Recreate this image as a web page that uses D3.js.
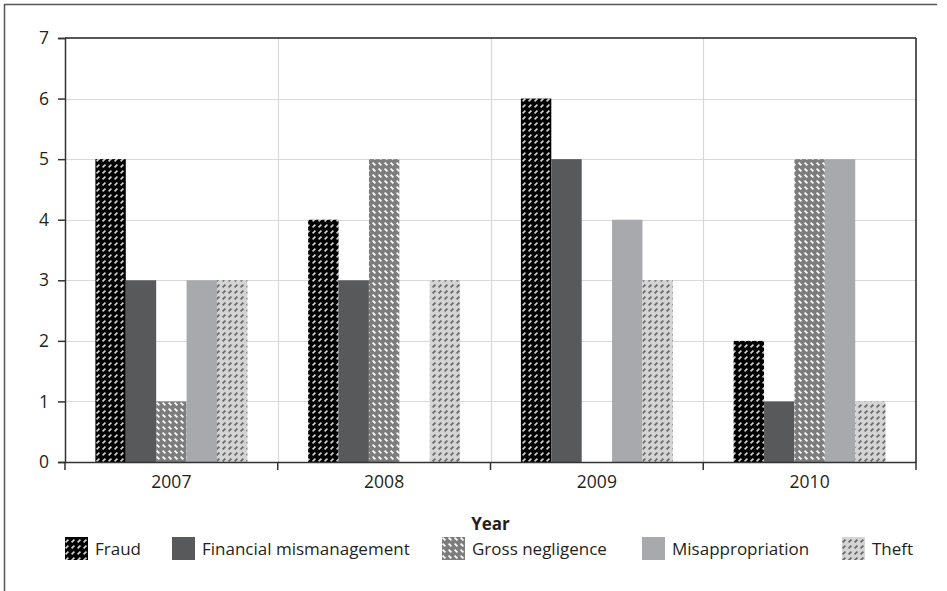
<!DOCTYPE html>
<html><head><meta charset="utf-8">
<script src="https://cdn.jsdelivr.net/npm/d3@7"></script>
<style>body{margin:0;background:#fff}svg{display:block}text{font-family:"Open Sans",sans-serif;fill:#231f20}</style>
</head><body><svg id="c" width="947" height="591"></svg>
<script>
const years = ["2007","2008","2009","2010"];
const seriesNames = ["Fraud","Financial mismanagement","Gross negligence","Misappropriation","Theft"];
const fraud = [5,4,6,2];
const financial = [3,3,5,1];
const gross = [1,5,0,5];
const misappropriation = [3,0,4,5];
const theft = [3,3,3,1];
const yTicks = [0,1,2,3,4,5,6,7];
const values = [fraud, financial, gross, misappropriation, theft];

const svg = d3.select("#c");
const W=947,H=591;
const m={l:65,r:916,t:38,b:462};
const defs = svg.append("defs");
function pat(id,bg,fg,dir){
  const s=6;
  const p=defs.append("pattern").attr("id",id).attr("patternUnits","userSpaceOnUse").attr("width",s).attr("height",s);
  p.append("rect").attr("width",s).attr("height",s).attr("fill",bg);
  const seg = dir>0 ? [0.6,5.4,3.4,2.6] : [0.6,0.6,3.4,3.4];
  p.append("line").attr("x1",seg[0]).attr("y1",seg[1]).attr("x2",seg[2]).attr("y2",seg[3])
    .attr("stroke",fg).attr("stroke-width",1.7).attr("stroke-linecap","butt");
}
pat("pFraud","#000","#d0d0d0",1);
pat("pGross","#7d7d7d","#ffffff",-1);
pat("pTheft","#d4d4d4","#666666",1);
const fills=["url(#pFraud)","#58595b","url(#pGross)","#a7a9ac","url(#pTheft)"];

// frame
svg.append("line").attr("x1",4.5).attr("x2",4.5).attr("y1",4).attr("y2",H).attr("stroke","#555").attr("stroke-width",1.5);
svg.append("line").attr("x1",4).attr("x2",937).attr("y1",4.5).attr("y2",4.5).attr("stroke","#555").attr("stroke-width",1.5);

const x = d3.scaleBand().domain(years).range([m.l,m.r]);
const xs = d3.scaleBand().domain(seriesNames).range([0,x.bandwidth()]).paddingOuter(1).paddingInner(0);
const y = d3.scaleLinear().domain([0,7]).range([m.b,m.t]);

// grid
svg.append("g").selectAll("line").data(yTicks.filter(d=>d>0&&d<7)).join("line")
  .attr("x1",m.l).attr("x2",m.r).attr("y1",d=>Math.round(y(d))+0.5).attr("y2",d=>Math.round(y(d))+0.5)
  .attr("stroke","#d9d9d9").attr("stroke-width",1.2);
svg.append("g").selectAll("line").data(years.slice(1)).join("line")
  .attr("x1",d=>Math.round(x(d))+0.5).attr("x2",d=>Math.round(x(d))+0.5).attr("y1",m.t).attr("y2",m.b)
  .attr("stroke","#d9d9d9").attr("stroke-width",1.2);

// bars
values.forEach((vals,si)=>{
  svg.append("g").selectAll("rect").data(vals.map((v,i)=>({v,yr:years[i]}))).join("rect")
    .attr("x",d=>x(d.yr)+xs(seriesNames[si]))
    .attr("width",xs.bandwidth())
    .attr("y",d=>y(d.v)).attr("height",d=>y(0)-y(d.v))
    .attr("fill",fills[si]);
});

// plot border top/right
svg.append("line").attr("x1",m.l).attr("x2",m.r).attr("y1",m.t).attr("y2",m.t).attr("stroke","#231f20").attr("stroke-width",1.5);
svg.append("line").attr("x1",m.r).attr("x2",m.r).attr("y1",m.t).attr("y2",m.b).attr("stroke","#231f20").attr("stroke-width",1.5);

// y axis
const ya = svg.append("g").attr("transform",`translate(${m.l},0)`)
  .call(d3.axisLeft(y).tickValues(yTicks).tickSize(7).tickPadding(9).tickFormat(d3.format("d")));
ya.select(".domain").attr("stroke","#333").attr("stroke-width",1.5);
ya.selectAll(".tick line").attr("stroke","#333").attr("stroke-width",1.5);
ya.selectAll("text").style("font-size","17.5px").attr("fill","#231f20");

// x axis
const xa = svg.append("g").attr("transform",`translate(0,${m.b})`)
  .call(d3.axisBottom(x).tickSize(0).tickPadding(14));
xa.select(".domain").attr("stroke","#333").attr("stroke-width",1.5);
xa.selectAll("text").style("font-size","17.5px").attr("fill","#231f20");
const bounds = years.map(d=>x(d)).concat([x(years[3])+x.bandwidth()]);
xa.selectAll(".bt").data(bounds).join("line").attr("class","bt")
  .attr("x1",d=>d).attr("x2",d=>d).attr("y1",0).attr("y2",8).attr("stroke","#333").attr("stroke-width",1.5);

svg.append("text").attr("x",(m.l+m.r)/2).attr("y",530).attr("text-anchor","middle")
  .style("font-size","17px").style("font-weight","bold").text("Year");

// legend
const lx=[65,172,442,642,842];
const lg = svg.append("g").selectAll("g").data(seriesNames).join("g")
  .attr("transform",(d,i)=>`translate(${lx[i]},537)`);
lg.append("rect").attr("width",23).attr("height",23).attr("fill",(d,i)=>fills[i]);
lg.append("text").attr("x",30).attr("y",18).style("font-size","17px").text(d=>d);
</script></body></html>
